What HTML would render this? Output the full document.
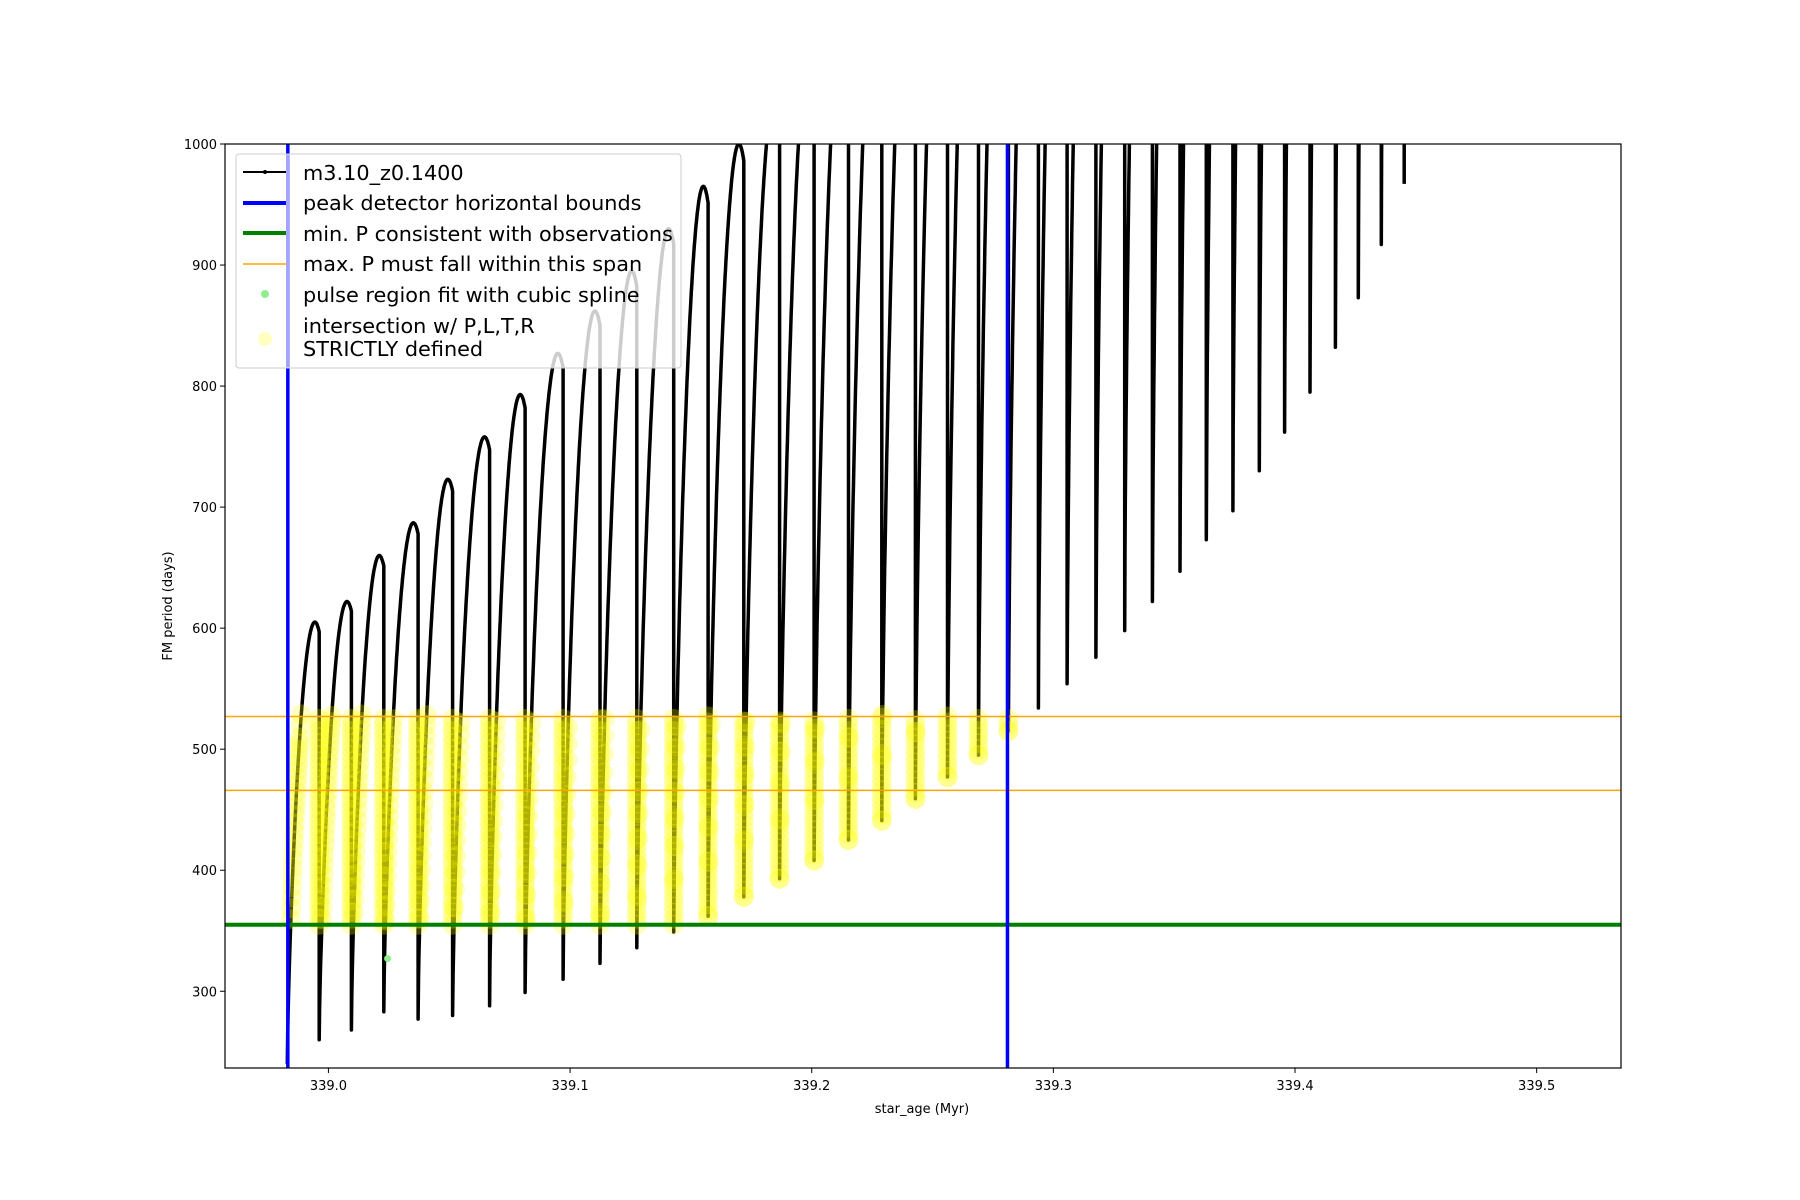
<!DOCTYPE html>
<html><head><meta charset="utf-8"><style>
body{margin:0;background:#fff}
svg{display:block;font-family:"DejaVu Sans","Liberation Sans",sans-serif}
</style></head><body>
<svg id="chart" width="1800" height="1200" viewBox="0 0 1800 1200">
<defs><clipPath id="clip"><rect x="225" y="144" width="1396" height="924"/></clipPath></defs>
<rect width="1800" height="1200" fill="#fff"/>
<g id="plot" clip-path="url(#clip)"></g>
<g id="axes"></g>
</svg>
<script>
const dropAges=[338.9962,339.0095,339.0229,339.0371,339.0514,339.0667,339.0814,339.0971,339.1124,339.1276,339.1429,339.1571,339.1719,339.1867,339.2010,339.2152,339.2290,339.2429,339.2562,339.2690,339.2814,339.2938,339.3057,339.3176,339.3295,339.3410,339.3524,339.3633,339.3743,339.3852,339.3957,339.4062,339.4167,339.4262,339.4357,339.4452];
const peakPeriods=[605,622,660,687,723,758,793,827,862,895,930,965,1000,1040,1080,1120,1160,1200,1240,1280,1320,1360,1400,1440,1480,1520,1560,1600,1640,1680,1720,1760,1800,1840,1880,1920];
const minPeriods=[260,268,283,277,280,288,299,310,323,336,349,362,378,393,408,425,441,459,477,495,515,534,554,576,598,622,647,673,697,730,762,795,832,873,917,967];
const startAge=338.983, startPeriod=240;
const boundAges=[338.9832,339.281];
const minP=355;
const spanP=[466,527];
const splinePoint=[339.0245,327];
const xTicks=[339.0,339.1,339.2,339.3,339.4,339.5];
const yTicks=[300,400,500,600,700,800,900,1000];

const X0=338.9572,X1=339.5349,Y0=236.6,Y1=1000;
const L=225,R=1621,T=144,B=1068;
const sx=v=>L+(v-X0)/(X1-X0)*(R-L);
const sy=v=>B-(v-Y0)/(Y1-Y0)*(B-T);
const NS="http://www.w3.org/2000/svg";
function mk(tag,attrs,parent){const e=document.createElementNS(NS,tag);for(const k in attrs)e.setAttribute(k,attrs[k]);parent.appendChild(e);return e;}
const plot=document.getElementById('plot'),axes=document.getElementById('axes');

let pts=[];let prevAge=startAge,prevMin=startPeriod;
const yellow=[];
for(let i=0;i<dropAges.length;i++){
  const a=dropAges[i],pk=peakPeriods[i];
  const N=80;
  let lastP=-1e9;
  for(let k=0;k<=N;k++){
    const u=k/N;
    const fu=Math.pow(Math.max(0,Math.sin(u*Math.PI*0.58)),0.7)/Math.pow(Math.sin(Math.PI*0.58),0.7)*0.999;
    const p=prevMin+(pk-prevMin)*Math.min(1,Math.pow(Math.sin(u*Math.PI*0.58),0.7));
    const ag=prevAge+(a-prevAge)*u;
    pts.push([ag,p]);
    if(p>=minP&&p<=spanP[1]+2&&Math.abs(p-lastP)>=5){yellow.push([ag,p]);lastP=p;}
  }
  const top=prevMin+(pk-prevMin)*Math.pow(Math.sin(Math.PI*0.58),0.7);
  pts.push([a,minPeriods[i]]);
  const lo=Math.max(minPeriods[i],minP),hi=Math.min(top,spanP[1]);
  for(let p=lo;p<=hi;p+=5) yellow.push([a,p]);
  prevAge=a;prevMin=minPeriods[i];
}
const curve=mk('path',{d:pts.map((q,i)=>(i?'L':'M')+sx(q[0]).toFixed(1)+' '+sy(q[1]).toFixed(1)).join(''),fill:'none',stroke:'#000','stroke-width':3.5,'stroke-linejoin':'round'},plot);


const yg=mk('g',{},plot);


yellow.forEach(q=>{const c=mk('circle',{cx:sx(q[0]),cy:sy(q[1]),r:10,fill:'#ffff00','fill-opacity':0.25},yg);

});
spanP.forEach(v=>{const l=mk('line',{x1:L,x2:R,y1:sy(v),y2:sy(v),stroke:'orange','stroke-width':1.5},plot);

});
const g=mk('line',{x1:L,x2:R,y1:sy(minP),y2:sy(minP),stroke:'green','stroke-width':4},plot);


boundAges.forEach(v=>{const l=mk('line',{x1:sx(v),x2:sx(v),y1:T,y2:B,stroke:'blue','stroke-width':3.5},plot);

});
const gp=mk('circle',{cx:sx(splinePoint[0]),cy:sy(splinePoint[1]),r:3.5,fill:'lightgreen'},plot);



const fr=mk('rect',{x:L,y:T,width:R-L,height:B-T,fill:'none',stroke:'#000','stroke-width':1.2},axes);


xTicks.forEach(v=>{const x=sx(v);mk('line',{x1:x,x2:x,y1:B,y2:B+5,stroke:'#000'},axes);
const t=mk('text',{x:x,y:B+22,'font-size':13,'text-anchor':'middle'},axes);t.textContent=v.toFixed(1);

});
yTicks.forEach(v=>{const y=sy(v);mk('line',{x1:L-5,x2:L,y1:y,y2:y,stroke:'#000'},axes);
const t=mk('text',{x:L-8,y:y+5,'font-size':13,'text-anchor':'end'},axes);t.textContent=v;

});
</script>
<svg style="position:absolute;left:0;top:0" width="1800" height="1200" font-family="DejaVu Sans, Liberation Sans, sans-serif">
<text x="922" y="1113" font-size="13" text-anchor="middle">star_age (Myr)</text>
<text x="0" y="0" font-size="13" text-anchor="middle" transform="translate(172,606) rotate(-90)">FM period (days)</text>
<g>
<rect x="236" y="154" width="445" height="214" rx="3" fill="#fff" fill-opacity="0.8" stroke="#ccc"/>
<g><line x1="243" x2="286" y1="172" y2="172" stroke="#000" stroke-width="2"/><circle cx="265" cy="172" r="2"/><text x="303" y="180" font-size="20.8">m3.10_z0.1400</text></g>
<g><line x1="243" x2="286" y1="203" y2="203" stroke="blue" stroke-width="4"/><text x="303" y="210" font-size="20.8">peak detector horizontal bounds</text></g>
<g><line x1="243" x2="286" y1="233" y2="233" stroke="green" stroke-width="4"/><text x="303" y="241" font-size="20.8">min. P consistent with observations</text></g>
<g><line x1="243" x2="286" y1="264" y2="264" stroke="orange" stroke-width="1.5"/><text x="303" y="271" font-size="20.8">max. P must fall within this span</text></g>
<g><circle cx="265" cy="294" r="4" fill="lightgreen"/><text x="303" y="302" font-size="20.8">pulse region fit with cubic spline</text></g>
<g><circle cx="265" cy="339" r="7" fill="#ffff00" fill-opacity="0.25"/><text x="303" y="333" font-size="20.8">intersection w/ P,L,T,R</text><text x="303" y="356" font-size="20.8">STRICTLY defined</text></g>
</g>
<rect x="286" y="155" width="4" height="212" fill="blue" fill-opacity="0.2"/>
</svg>
</body></html>
